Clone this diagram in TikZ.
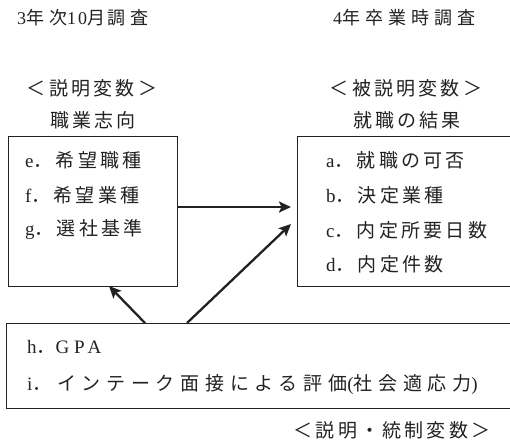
\documentclass[tikz,border=0pt]{standalone}
\usepackage{fontspec}
\setmainfont{Liberation Serif}
\newfontfamily\cjk[LetterSpace=17]{Noto Sans CJK JP}
\newfontfamily\cjkw[LetterSpace=30]{Noto Sans CJK JP}
\newfontfamily\cjkh[LetterSpace=28]{Noto Sans CJK JP}
\newfontfamily\latsp[LetterSpace=25]{Liberation Serif}
\newfontfamily\lath[LetterSpace=10]{Liberation Serif}
\usetikzlibrary{arrows.meta}
\definecolor{ink}{HTML}{222222}
\tikzset{
  txt/.style={inner sep=0pt, text=ink, font=\fontsize{19}{22}\selectfont},
  htxt/.style={inner sep=0pt, text=ink, font=\fontsize{18}{22}\selectfont},
  boxframe/.style={draw=ink, line width=1.1pt, inner sep=0pt, anchor=north west},
  arr/.style={draw=ink, line width=2.3pt, -{Stealth[length=12pt,width=11pt,inset=2.5pt]}}
}
\begin{document}
\begin{tikzpicture}[x=1pt,y=1pt]
\useasboundingbox (0,0) rectangle (510,-440);
\clip (0,0) rectangle (510,-440);
% boxes
\node[boxframe, minimum width=169pt, minimum height=150pt] (L) at (8,-136) {};
\node[boxframe, minimum width=240pt, minimum height=150pt] (R) at (297,-136) {};
\node[boxframe, minimum width=520pt, minimum height=85pt] (B) at (6,-323) {};
% headers
\node[htxt, anchor=west] (t1) at (17,-18) {{\lath 3}{\cjkh 年次}{\lath 10}{\cjkh 月}\hspace{2pt}{\cjkh 調査}};
\node[htxt, anchor=west] (t2) at (333,-18) {{\lath 4}{\cjkh 年卒業時調査}};
\node[txt] (l1) at (92,-88) {\cjk ＜説明変数＞};
\node[txt] (l2) at (93,-120) {\cjk 職業志向};
\node[txt] (r1) at (406,-88) {\cjk ＜被説明変数＞};
\node[txt] (r2) at (407,-120) {\cjk 就職の結果};
% left items
\node[txt, anchor=west] (e) at (25,-160) {{\latsp e}{\cjk ．希望職種}};
\node[txt, anchor=west] (f) at (25,-195) {{\latsp f}{\cjk ．希望業種}};
\node[txt, anchor=west] (g) at (25,-230) {{\latsp g}{\cjk ．選社基準}};
% right items
\node[txt, anchor=west] (a) at (326,-160) {{\latsp a}{\cjk ．就職の可否}};
\node[txt, anchor=west] (b) at (326,-195) {{\latsp b}{\cjk ．決定業種}};
\node[txt, anchor=west] (c) at (326,-230) {{\latsp c}{\cjk ．内定所要日数}};
\node[txt, anchor=west] (d) at (326,-264) {{\latsp d}{\cjk ．内定件数}};
% bottom items
\node[txt, anchor=west] (h) at (27,-347) {{\latsp h}{\cjkw ．}{\latsp GPA}};
\node[txt, anchor=west] (i) at (27,-385) {{\latsp i}{\cjkw ．インテーク面接による評価}{\latsp (}{\cjkw 社会適応力}{\latsp )}};
\node[txt] (s) at (392,-430) {\cjk ＜説明・統制変数＞};
% arrow ends
\coordinate (hEnd) at ([xshift=-6pt]R.west |- 0,-207);
\coordinate (dEnd) at (291,-224);
\coordinate (uEnd) at (109,-286);
\coordinate (dStart) at (187,-323);
\coordinate (uStart) at (145,-323);
\draw[arr] (L.east |- 0,-207) -- (hEnd);
\draw[arr] (dStart) -- (dEnd);
\draw[arr] (uStart) -- (uEnd);
\end{tikzpicture}
\end{document}
